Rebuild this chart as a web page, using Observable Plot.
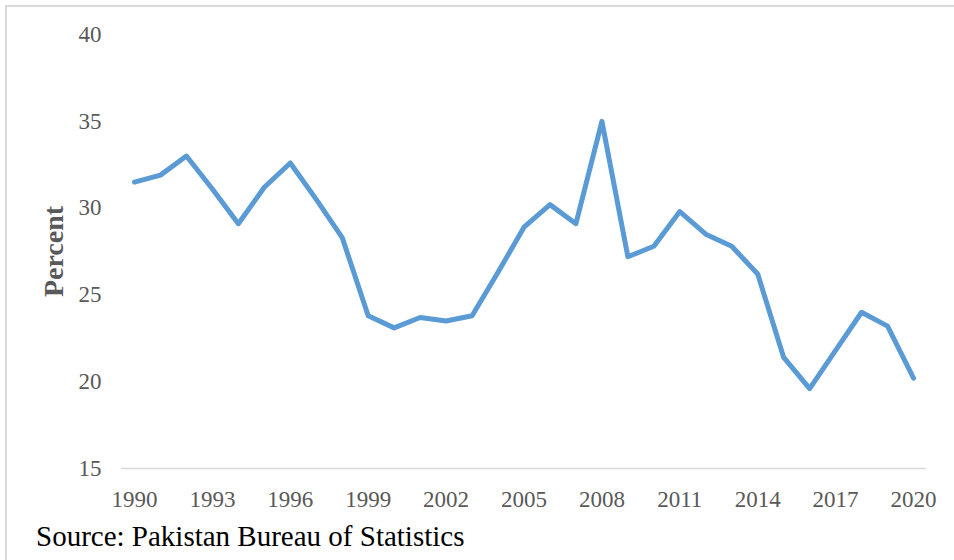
<!DOCTYPE html>
<html>
<head>
<meta charset="utf-8">
<script src="https://cdn.jsdelivr.net/npm/d3@7"></script>
<script src="https://cdn.jsdelivr.net/npm/@observablehq/plot@0.6"></script>
<style>
  html, body { margin: 0; padding: 0; background: #ffffff; }
  #wrap { position: relative; width: 954px; height: 560px; overflow: hidden; font-family: "Liberation Serif", "Times New Roman", serif; }
  #frame { position: absolute; left: 5px; top: 5px; width: 1000px; height: 600px; border-left: 2px solid #d9d9d9; border-top: 2px solid #d9d9d9; box-sizing: border-box; }
  #chart { position: absolute; left: 0; top: 0; }
  #source { position: absolute; left: 36px; top: 522px; font-size: 29px; line-height: 28px; color: #000000; white-space: nowrap; }
</style>
</head>
<body>
<div id="wrap">
  <div id="frame"></div>
  <div id="chart"></div>
  <div id="source"></div>
</div>
<script>
// Annual share (percent), 1990–2020
const years = [
  1990, 1991, 1992, 1993, 1994, 1995, 1996, 1997, 1998, 1999,
  2000, 2001, 2002, 2003, 2004, 2005, 2006, 2007, 2008, 2009,
  2010, 2011, 2012, 2013, 2014, 2015, 2016, 2017, 2018, 2019, 2020
];
const percent = [
  31.5, 31.9, 33.0, 31.1, 29.1, 31.2, 32.6, 30.5, 28.3, 23.8,
  23.1, 23.7, 23.5, 23.8, 26.3, 28.9, 30.2, 29.1, 35.0, 27.2,
  27.8, 29.8, 28.5, 27.8, 26.2, 21.4, 19.6, 21.8, 24.0, 23.2, 20.2
];
const xTicks = [1990, 1993, 1996, 1999, 2002, 2005, 2008, 2011, 2014, 2017, 2020];
const yTicks = [15, 20, 25, 30, 35, 40];
const yTitle = ["Percent"];
const sourceNote = "Source: Pakistan Bureau of Statistics";

const rows = years.map((year, i) => ({year, value: percent[i]}));

const chart = Plot.plot({
  width: 954,
  height: 515,
  marginLeft: 121,
  marginRight: 28,
  marginTop: 34,
  marginBottom: 47,
  style: {
    fontFamily: "'Liberation Serif', 'Times New Roman', serif",
    fontSize: "23px",
    color: "#595959",
    background: "transparent"
  },
  x: {
    type: "linear",
    domain: [1989.5, 2020.5],
    ticks: xTicks,
    tickFormat: d => String(d),
    tickSize: 0,
    tickPadding: 22,
    label: null
  },
  y: {
    domain: [15, 40],
    ticks: yTicks,
    tickSize: 0,
    tickPadding: 20,
    label: null
  },
  marks: [
    Plot.ruleY([15], {stroke: "#d9d9d9", strokeWidth: 1.5}),
    Plot.line(rows, {
      x: "year",
      y: "value",
      stroke: "#5b9bd5",
      strokeWidth: 5,
      strokeLinejoin: "round",
      strokeLinecap: "round"
    }),
    Plot.text(yTitle, {
      text: d => d,
      frameAnchor: "left",
      textAnchor: "middle",
      rotate: -90,
      dx: -67,
      fontSize: 28,
      fontWeight: "bold",
      fill: "#595959"
    })
  ]
});

document.getElementById("chart").appendChild(chart);
document.getElementById("source").textContent = sourceNote;
</script>
</body>
</html>
